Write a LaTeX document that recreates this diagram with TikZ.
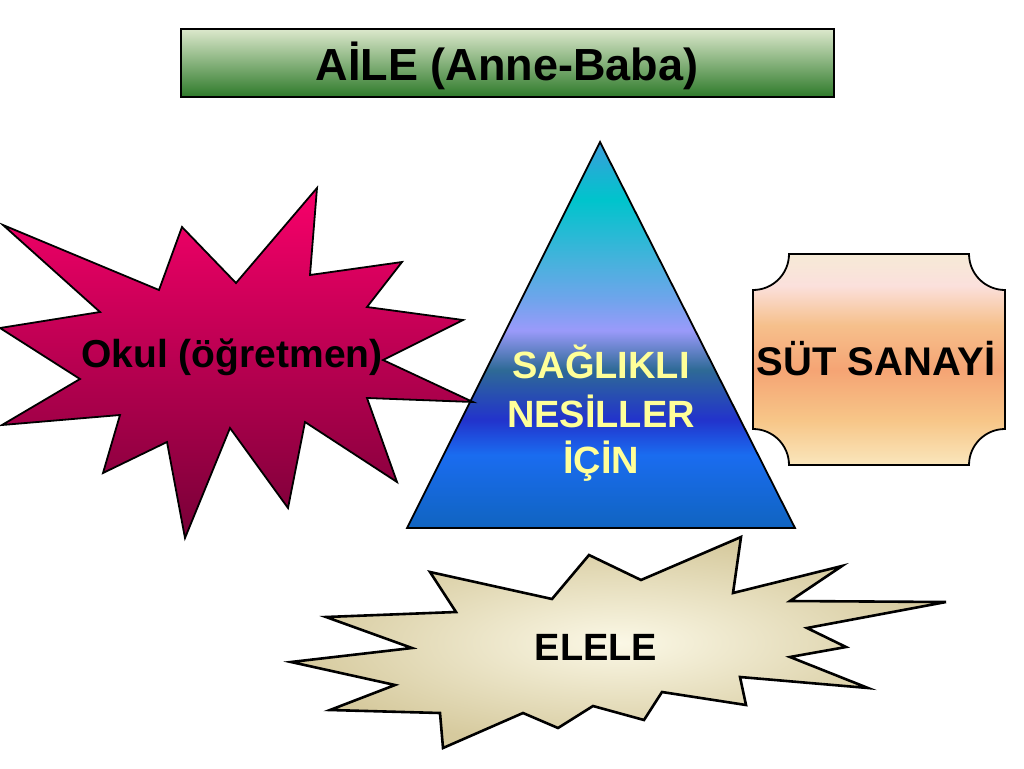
\documentclass[tikz,border=0pt]{standalone}
\usepackage{fontspec}
\setmainfont{Liberation Sans}
\usetikzlibrary{positioning}

\definecolor{bannerTop}{HTML}{DCE8CC}
\definecolor{bannerMid}{HTML}{86B46A}
\definecolor{bannerBot}{HTML}{2E7A2A}
\definecolor{okulTop}{HTML}{F8006A}
\definecolor{okulMid}{HTML}{DC0058}
\definecolor{okulBot}{HTML}{780037}
\definecolor{eleleIn}{HTML}{FBF8E6}
\definecolor{eleleOut}{HTML}{D6CA9E}
\definecolor{nesilText}{HTML}{FFFF99}

% pyramid colours, bottom to top
\definecolor{pyrA}{HTML}{1064C0}
\definecolor{pyrB}{HTML}{1A6CF0}
\definecolor{pyrC}{HTML}{2233CC}
\definecolor{pyrD}{HTML}{2E6A96}
\definecolor{pyrE}{HTML}{9A9AFA}
\definecolor{pyrF}{HTML}{70A4EC}
\definecolor{pyrG}{HTML}{45B2DC}
\definecolor{pyrH}{HTML}{00C4CC}
\definecolor{pyrI}{HTML}{3A9EDB}
\pgfdeclareverticalshading{pyramid}{100bp}{color(0bp)=(pyrA); color(25bp)=(pyrA);
  color(34.5bp)=(pyrB); color(39bp)=(pyrC); color(45.5bp)=(pyrD);
  color(50.6bp)=(pyrE); color(54.5bp)=(pyrF); color(59.7bp)=(pyrG);
  color(67.5bp)=(pyrH); color(75bp)=(pyrI); color(100bp)=(pyrI)}

% plaque colours, bottom to top
\definecolor{sutA}{HTML}{FAE6BC}
\definecolor{sutB}{HTML}{F7C688}
\definecolor{sutC}{HTML}{F5A474}
\definecolor{sutD}{HTML}{F6C08C}
\definecolor{sutE}{HTML}{FBE0DC}
\definecolor{sutF}{HTML}{F6EAD6}
\pgfdeclareverticalshading{plaque}{100bp}{color(0bp)=(sutA); color(25bp)=(sutA);
  color(35.5bp)=(sutB); color(47.5bp)=(sutC); color(58.2bp)=(sutD);
  color(67.5bp)=(sutE); color(75bp)=(sutF); color(100bp)=(sutF)}

\tikzset{
  bigtext/.style={font=\bfseries\fontsize{38}{47}\selectfont, anchor=base},
  outline/.style={draw=black, line width=1.8pt, line join=miter}
}

\begin{document}
\begin{tikzpicture}[x=1pt, y=-1pt]
  \useasboundingbox (0,0) rectangle (1024,768);

  % Aile banner
  \shade[outline, top color=bannerTop, middle color=bannerMid,
         bottom color=bannerBot] (181,29) rectangle (834,97);
  \node[bigtext, font=\bfseries\fontsize{45}{54}\selectfont] (aile) at (507,80)
    {AİLE (Anne-Baba)};

  % Pyramid
  \shade[outline, shading=pyramid] (600,142) -- (795,528) -- (407,528) -- cycle;
  \node[bigtext, text=nesilText] (saglikli) at (601,378) {SAĞLIKLI};
  \node[bigtext, text=nesilText] (nesiller) at (601,427) {NESİLLER};
  \node[bigtext, text=nesilText] (icin) at (601,473) {İÇİN};

  % Okul burst
  \shade[outline, top color=okulTop, middle color=okulMid, bottom color=okulBot]
    (3,225) -- (159,290) -- (182,227) -- (236,283) -- (317,188) -- (310,275)
    -- (402,262) -- (367,307) -- (463,320) -- (383,360) -- (473,402)
    -- (367,398) -- (397,482) -- (305,422) -- (288,508) -- (230,428)
    -- (185,538) -- (167,442) -- (103,473) -- (120,415) -- (2,425)
    -- (80,379) -- (0,328) -- (100,312) -- cycle;
  \node[bigtext, font=\bfseries\fontsize{39}{47}\selectfont] (okul) at (232,367)
    {Okul (öğretmen)};

  % Sut sanayi plaque
  \shade[outline, shading=plaque]
    (789,254) -- (969,254) arc[start angle=180, end angle=90, radius=36]
    -- (1005,429) arc[start angle=270, end angle=180, radius=36]
    -- (789,465) arc[start angle=360, end angle=270, radius=36]
    -- (753,290) arc[start angle=90, end angle=0, radius=36] -- cycle;
  \node[bigtext, font=\bfseries\fontsize{40}{47}\selectfont] (sut) at (876,375)
    {SÜT SANAYİ};

  % Elele burst
  \shade[outline, line width=2.6pt, inner color=eleleIn, outer color=eleleOut]
    (430,572) -- (552,599) -- (589,555) -- (641,580) -- (741,537) -- (733,593)
    -- (842,566) -- (790,601) -- (946,602) -- (807,628) -- (846,647)
    -- (790,657) -- (868,688) -- (740,677) -- (746,705) -- (662,692)
    -- (644,720) -- (593,706) -- (558,728) -- (523,713) -- (443,748)
    -- (440,713) -- (330,710) -- (395,685) -- (291,662) -- (412,648)
    -- (326,617) -- (456,612) -- cycle;
  \node[bigtext] (elele) at (596,660) {ELELE};
\end{tikzpicture}
\end{document}
